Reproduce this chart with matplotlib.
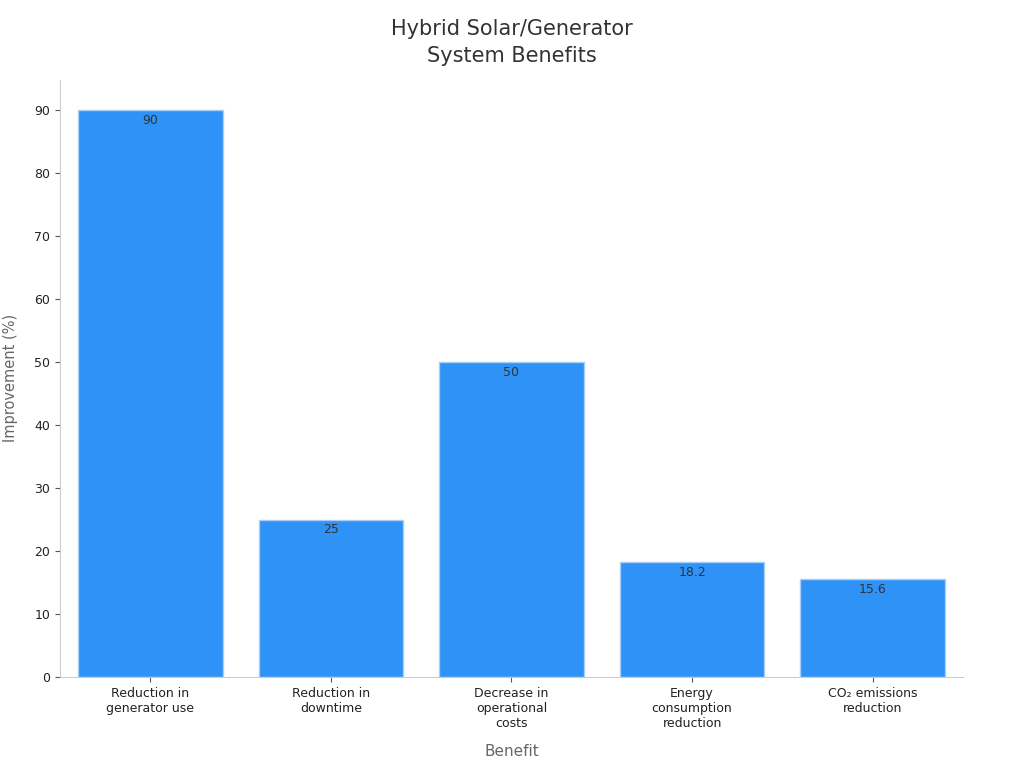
import matplotlib.pyplot as plt

categories = ["Reduction in\ngenerator use", "Reduction in\ndowntime", "Decrease in\noperational\ncosts",
              "Energy\nconsumption\nreduction", "CO₂ emissions\nreduction"]
values = [90, 25, 50, 18.2, 15.6]
value_labels = ["90", "25", "50", "18.2", "15.6"]

fig = plt.figure(figsize=(10.24, 7.68), dpi=100)
ax = fig.add_axes([0.0586, 0.1185, 0.8818, 0.7775])

x = range(len(categories))
bars = ax.bar(x, values, width=0.8, color="#2f92f7", edgecolor="#a9cdf5", linewidth=1)
for xi, v, lab in zip(x, values, value_labels):
    ax.text(xi, v - 0.6, lab, ha="center", va="top", fontsize=9, color="#333333")

ax.set_xlim(-0.5, 4.5)
ax.set_ylim(0, 94.8)
ax.set_yticks(range(0, 91, 10))
ax.set_xticks(list(x))
ax.set_xticklabels(categories, fontsize=9, color="#222222")
ax.tick_params(axis="y", labelsize=9, colors="#222222")
ax.tick_params(color="#555555")
for s in ["top", "right"]:
    ax.spines[s].set_visible(False)
for s in ["left", "bottom"]:
    ax.spines[s].set_color("#cccccc")

ax.set_xlabel("Benefit", fontsize=11, color="#666666", labelpad=10)
ax.set_ylabel("Improvement (%)", fontsize=10.5, color="#666666", labelpad=12)
fig.suptitle("Hybrid Solar/Generator\nSystem Benefits", fontsize=15, color="#333333", y=0.975,
             linespacing=1.45)

fig.savefig("out.png", dpi=100)
